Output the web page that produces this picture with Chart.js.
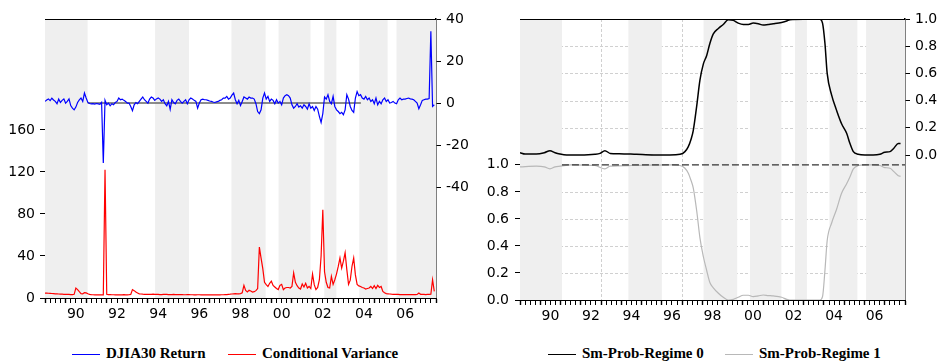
<!DOCTYPE html>
<html>
<head>
<meta charset="utf-8">
<title>DJIA30 Return, Conditional Variance and Smoothed Regime Probabilities</title>
<script src="https://cdn.jsdelivr.net/npm/chart.js@4.4.1/dist/chart.umd.min.js"></script>
<style>
  body { margin: 0; background: #fff; }
  #wrap { position: relative; width: 938px; height: 363px; overflow: hidden; }
  .panel { position: absolute; top: 0; width: 469px; height: 330px; }
  #leftPanel { left: 0; }
  #rightPanel { left: 469px; }
  .key { position: absolute; top: 343px; height: 20px; white-space: nowrap;
         font: bold 15px "Liberation Serif", "Times New Roman", serif; color: #000; line-height: 20px; }
  .key i { display: inline-block; width: 28px; height: 0; border-top: 1.5px solid; vertical-align: middle; margin-right: 6px; }
</style>
</head>
<body>
<div id="wrap">
  <div class="panel" id="leftPanel"><canvas id="leftChart" width="469" height="330"></canvas></div>
  <div class="panel" id="rightPanel"><canvas id="rightChart" width="469" height="330"></canvas></div>
  <div id="legends"></div>
</div>
<script>
// monthly observations, 1989M01 .. 2007M12
const months = [];
for (let i = 0; i < 228; i++) months.push(1989 + i / 12);

const djiaReturn = [
  0.8, 1.5, 2.0, 1.2, 2.3, 1.5, 0.8, -0.3, 1.9, 0.3, 1.3, 2.0,
  0.0, 0.8, 2.0, -1.2, -2.4, -3.2, -1.9, 0.3, 1.5, 2.4, 0.8, 4.8,
  2.4, 0.3, -0.2, -0.4, -0.3, -0.5, -0.2, -0.4, -0.6, 0.4, -28.5, 1.3,
  -0.8, 0.0, -1.3, -0.3, -0.8, 0.3, 0.8, 2.4, 1.6, 1.9, 1.3, 0.8,
  0.0, 0.0, -1.6, -3.6, -0.8, 0.3, -0.3, 0.8, 1.9, 2.9, 1.6, 0.8,
  0.0, 1.9, 2.9, 2.4, 1.3, 2.0, 2.4, 1.9, 0.8, 1.6, -0.3, -1.3,
  0.8, -3.0, 1.6, 0.3, -0.3, 1.3, 1.9, 0.8, 0.0, 0.8, 1.6, -0.3,
  1.6, 2.4, 1.9, 1.3, 0.8, -2.4, 0.0, 1.6, 1.9, 1.6, 1.6, 1.3,
  1.0, 0.8, 0.5, 0.3, 0.6, 0.8, 1.3, 1.6, 2.4, 2.4, 3.2, 1.9,
  2.4, 3.8, 4.8, 1.6, -0.3, 1.3, -1.2, 0.8, 2.9, 2.4, 1.9, 2.9,
  2.4, 2.4, 1.9, -0.3, -4.0, -5.0, -3.2, 2.4, 4.8, 1.9, 3.2, 0.8,
  1.9, 1.3, -0.3, 1.6, 0.0, 0.8, -0.8, 2.4, 3.5, 4.0, 3.5, 2.4,
  -0.8, -2.4, -1.6, -0.3, -1.9, -1.3, -2.4, -0.8, -1.6, -2.9, -0.3, -2.4,
  -1.6, -3.5, -1.6, -2.9, -6.3, -9.2, -5.0, 2.9, 1.9, 4.0, 0.8, -0.3,
  3.2, -1.6, -3.2, -4.0, -5.0, -4.4, -5.5, -3.2, 4.0, 1.9, -1.6, -3.5,
  -4.4, 2.4, 5.5, 3.5, 4.0, 2.4, 1.9, 3.2, 1.6, 2.4, 0.8, 1.6,
  -0.3, 2.4, -0.8, 0.8, -0.3, 1.6, 2.4, 0.8, 1.6, 0.0, 0.3, 0.8,
  0.0, -0.3, 1.6, 2.4, 1.6, 1.9, 1.9, 2.2, 2.4, 2.0, 1.9, 1.6,
  0.8, 0.0, -2.7, -0.8, 1.3, 1.6, 1.9, 1.9, 2.2, 34.2, -1.6, -0.8
];

const condVariance = [
  4.7, 4.6, 4.5, 4.4, 4.3, 4.2, 4.0, 3.9, 3.8, 3.7, 3.6, 3.5,
  3.5, 3.4, 3.4, 3.3, 3.3, 3.5, 9.5, 8.0, 6.0, 4.2, 4.0, 5.0,
  4.8, 4.0, 3.5, 3.2, 3.1, 3.0, 3.0, 2.9, 2.9, 2.9, 3.0, 122,
  3.5, 3.3, 3.2, 3.1, 3.1, 3.0, 3.0, 3.1, 3.0, 3.0, 3.2, 3.0,
  3.0, 3.1, 3.4, 8.0, 7.0, 5.7, 4.7, 4.0, 3.8, 3.6, 3.5, 3.5,
  3.4, 3.4, 3.5, 3.6, 3.5, 3.4, 3.4, 3.3, 3.3, 3.4, 3.5, 3.4,
  3.3, 3.3, 3.2, 3.4, 3.3, 3.2, 3.2, 3.3, 3.2, 3.1, 3.1, 3.2,
  3.2, 3.1, 3.1, 3.0, 3.0, 3.1, 3.1, 3.0, 3.0, 3.0, 3.1, 3.0,
  3.0, 3.0, 3.0, 3.0, 3.0, 3.0, 3.0, 3.1, 3.1, 3.2, 3.3, 3.5,
  3.6, 3.8, 4.0, 4.2, 4.0, 4.0, 4.2, 5.0, 12.0, 7.3, 5.7, 7.3,
  6.6, 5.7, 6.0, 7.0, 9.0, 48.5, 38.0, 28.0, 15.0, 12.7, 11.0, 14.0,
  16.0, 12.0, 10.5, 9.0, 8.0, 12.0, 13.0, 8.0, 9.5, 10.0, 10.0, 9.5,
  11.0, 23.8, 15.0, 11.7, 9.5, 8.5, 13.3, 10.5, 14.0, 9.5, 11.0, 9.0,
  22.8, 12.7, 8.0, 10.0, 17.4, 40.0, 84.0, 25.0, 15.0, 10.0, 9.5, 20.6,
  13.0, 17.4, 23.0, 30.0, 38.0, 28.5, 35.0, 43.0, 27.0, 13.0, 17.0, 30.0,
  38.0, 22.0, 13.0, 11.5, 11.0, 10.0, 9.5, 8.5, 9.0, 9.5, 11.0, 9.0,
  11.7, 9.0, 12.0, 10.0, 11.0, 6.3, 5.0, 4.2, 4.0, 3.8, 3.6, 3.5,
  3.5, 3.4, 3.4, 3.3, 3.3, 3.3, 3.2, 3.2, 3.2, 3.2, 3.3, 3.3,
  3.3, 3.4, 4.7, 3.5, 3.4, 3.4, 3.3, 3.4, 3.5, 3.6, 17.4, 6.3
];

// smoothed regime probabilities (read at irregular dates)
const reg0Dates = [1989.0, 1989.25, 1989.8, 1990.2, 1990.48, 1990.73, 1990.97, 1991.3, 1991.95, 1992.7, 1992.95,
  1993.19, 1993.45, 1993.9, 1994.75, 1995.6, 1996.4, 1996.9, 1997.14, 1997.3, 1997.45, 1997.55, 1997.72, 1997.88,
  1998.05, 1998.21, 1998.37, 1998.54, 1998.79, 1999.03, 1999.28, 1999.53, 1999.77, 2000.02, 2000.27, 2000.51,
  2000.76, 2001.0, 2001.25, 2001.5, 2001.91, 2002.16, 2002.32, 2003.0, 2003.8, 2003.93, 2004.05, 2004.16, 2004.38,
  2004.62, 2004.87, 2005.12, 2005.28, 2005.45, 2005.69, 2006.02, 2006.43, 2006.76, 2007.0, 2007.26, 2007.45,
  2007.67, 2007.78];
const regime0 = [0.017, 0.007, 0.007, 0.017, 0.032, 0.017, 0.007, 0.0, 0.0, 0.005, 0.012,
  0.032, 0.012, 0.01, 0.005, 0.0, 0.0, 0.005, 0.025, 0.06, 0.12, 0.18, 0.36, 0.55,
  0.67, 0.73, 0.82, 0.89, 0.93, 0.96, 0.995, 0.99, 0.97, 0.96, 0.96, 0.97,
  0.965, 0.955, 0.96, 0.965, 0.975, 0.985, 0.995, 0.998, 0.998, 0.97, 0.82, 0.6, 0.44,
  0.33, 0.23, 0.16, 0.086, 0.025, 0.005, 0.0, 0.0, 0.005, 0.02, 0.025, 0.05,
  0.085, 0.085];
const reg1Dates = [1989.0, 1989.8, 1990.2, 1990.48, 1990.73, 1991.0, 1991.5, 1992.7, 1993.19, 1993.45, 1994.5,
  1996.5, 1996.9, 1997.14, 1997.3, 1997.45, 1997.55, 1997.72, 1997.88, 1998.05, 1998.21, 1998.37, 1998.54,
  1998.79, 1999.03, 1999.28, 1999.53, 1999.77, 2000.02, 2000.27, 2000.51, 2000.76, 2001.0, 2001.25, 2001.5,
  2001.91, 2002.16, 2002.32, 2003.8, 2003.93, 2004.05, 2004.16, 2004.38, 2004.62, 2004.87, 2005.12, 2005.28,
  2005.45, 2005.69, 2006.02, 2006.43, 2006.76, 2007.0, 2007.26, 2007.45, 2007.67, 2007.78];
const regime1 = [0.985, 0.99, 0.985, 0.97, 0.985, 0.99, 1.0, 0.995, 0.97, 0.99, 0.995,
  1.0, 0.995, 0.975, 0.94, 0.88, 0.83, 0.66, 0.46, 0.32, 0.22, 0.13, 0.09,
  0.05, 0.02, 0.0, 0.005, 0.02, 0.035, 0.035, 0.025, 0.03, 0.037, 0.033, 0.03,
  0.02, 0.005, 0.0, 0.0, 0.025, 0.22, 0.44, 0.57, 0.67, 0.79, 0.86, 0.91,
  0.97, 0.995, 1.0, 1.0, 0.995, 0.98, 0.975, 0.95, 0.92, 0.915];

// shaded periods
const bands = [[1989.0, 1991.07], [1994.35, 1996.0], [1998.06, 1999.72], [2000.35, 2001.9],
  [2002.57, 2003.16], [2004.27, 2005.65], [2006.08, 2008.0]];

// reference lines
const zeroLineDates = [1991.07, 2004.35];
const oneLineDates = [1991.07, 2008.0];

// axis ticks
const cvTicks = [0, 40, 80, 120, 160];
const retTicks = [-40, -20, 0, 20, 40];
const probTicks = [0, 0.2, 0.4, 0.6, 0.8, 1.0];
const labelYears = [1990, 1992, 1994, 1996, 1998, 2000, 2002, 2004, 2006];
const gridYears = [1993, 1997, 2001, 2005];
const gridProbs = [0.2, 0.4, 0.6, 0.8];

const seriesNames = ['DJIA30 Return', 'Conditional Variance', 'Sm-Prob-Regime 0', 'Sm-Prob-Regime 1'];
const seriesColors = ['#0000ff', '#ff0000', '#000000', '#b8b8b8'];

const tickFont = { family: '"DejaVu Sans", Verdana, sans-serif', size: 14 };

const quarterTicks = [];
for (let q = 1989 * 4; q <= 2008 * 4; q++) quarterTicks.push(q / 4);

function xAxis(h) {
  return {
    type: 'linear', min: 1989, max: 2008,
    afterBuildTicks: s => { s.ticks = quarterTicks.map(v => ({ value: v })); },
    afterFit: s => { s.height = h; },
    ticks: {
      autoSkip: false, maxRotation: 0, padding: 3, color: '#000', font: tickFont,
      callback: v => labelYears.includes(v - 0.5) ? String((v - 0.5) % 100).padStart(2, '0') : ''
    },
    grid: { drawOnChartArea: false, tickLength: 5, tickColor: '#000',
            tickWidth: c => (c.tick && Number.isInteger(c.tick.value)) ? 1.4 : 1 },
    border: { color: '#000', width: 1 }
  };
}

function yAxis(pos, min, max, ticks, w, fmt, pad) {
  return {
    position: pos, min: min, max: max,
    afterBuildTicks: s => { s.ticks = ticks.map(v => ({ value: v })); },
    afterFit: s => { s.width = w; },
    ticks: { color: '#000', font: tickFont, padding: pad, callback: fmt },
    grid: { drawOnChartArea: false, tickLength: 5, tickColor: '#000' },
    border: { color: '#000', width: pos === 'right' ? 1.5 : 1 }
  };
}

const shade = {
  id: 'shade',
  beforeDatasetsDraw(chart, args, opts) {
    const { ctx, chartArea: a, scales } = chart;
    ctx.save();
    ctx.beginPath();
    ctx.rect(a.left, a.top, a.width, a.height);
    ctx.clip();
    if (opts.grid) {
      ctx.strokeStyle = '#d0d0d0';
      ctx.lineWidth = 1;
      ctx.setLineDash([3, 2]);
      gridYears.forEach(v => {
        const px = Math.round(scales.x.getPixelForValue(v)) + 0.5;
        ctx.beginPath(); ctx.moveTo(px, a.top); ctx.lineTo(px, a.bottom); ctx.stroke();
      });
      ['yL', 'yR'].forEach(id => gridProbs.forEach(v => {
        const py = Math.round(scales[id].getPixelForValue(v)) + 0.5;
        ctx.beginPath(); ctx.moveTo(a.left, py); ctx.lineTo(a.right, py); ctx.stroke();
      }));
      ctx.setLineDash([]);
    }
    ctx.fillStyle = '#efefef';
    bands.forEach(([s, e]) => {
      const x0 = scales.x.getPixelForValue(s), x1 = scales.x.getPixelForValue(e);
      ctx.fillRect(x0, a.top, x1 - x0, a.height);
    });
    ctx.restore();
  },
  afterDraw(chart) {
    const { ctx, chartArea: a } = chart;
    ctx.save();
    ctx.strokeStyle = '#000';
    ctx.lineWidth = 1;
    ctx.beginPath(); ctx.moveTo(a.left, a.top + 0.5); ctx.lineTo(a.right, a.top + 0.5); ctx.stroke();
    ctx.restore();
  }
};

const pairs = (xs, ys) => xs.map((x, i) => ({ x: x, y: ys[i] }));

const common = {
  responsive: false, animation: false,
  parsing: false,
  layout: { padding: { top: 19, left: 0, right: 0, bottom: 0 } },
  plugins: { legend: { display: false }, tooltip: { enabled: false } },
  elements: { point: { radius: 0 } }
};

new Chart(document.getElementById('leftChart'), {
  type: 'line',
  data: {
    datasets: [
      { label: seriesNames[0], data: pairs(months, djiaReturn), yAxisID: 'yRet',
        borderColor: seriesColors[0], borderWidth: 1.2, order: 1 },
      { label: 'zero', data: pairs(zeroLineDates, [0, 0]), yAxisID: 'yRet',
        borderColor: '#666', borderWidth: 1.5, order: 2 },
      { label: seriesNames[1], data: pairs(months, condVariance), yAxisID: 'yCV',
        borderColor: seriesColors[1], borderWidth: 1.2, order: 3 }
    ]
  },
  options: Object.assign({}, common, {
    plugins: Object.assign({}, common.plugins, { shade: { grid: false } }),
    scales: {
      x: xAxis(32),
      yCV: yAxis('left', 0, 265.5, cvTicks, 45, v => String(v), 5),
      yRet: yAxis('right', -92.7, 40, retTicks, 33, v => String(v), 5)
    }
  }),
  plugins: [shade]
});

new Chart(document.getElementById('rightChart'), {
  type: 'line',
  data: {
    datasets: [
      { label: seriesNames[2], data: pairs(reg0Dates, regime0), yAxisID: 'yR',
        borderColor: seriesColors[2], borderWidth: 1.5, cubicInterpolationMode: 'monotone', order: 1 },
      { label: 'one', data: pairs(oneLineDates, [1, 1]), yAxisID: 'yL',
        borderColor: '#333', borderWidth: 1.2, borderDash: [7, 3], order: 2 },
      { label: seriesNames[3], data: pairs(reg1Dates, regime1), yAxisID: 'yL',
        borderColor: seriesColors[3], borderWidth: 1.2, cubicInterpolationMode: 'monotone', order: 3 }
    ]
  },
  options: Object.assign({}, common, {
    plugins: Object.assign({}, common.plugins, { shade: { grid: true } }),
    scales: {
      x: xAxis(30),
      yL: yAxis('left', 0, 2.079, probTicks, 51, v => v.toFixed(1), 6),
      yR: yAxis('right', -1.066, 1, probTicks, 33, v => v.toFixed(1), 5)
    }
  }),
  plugins: [shade]
});

// legends
const keyPos = [72, 228, 548, 725];
const legends = document.getElementById('legends');
seriesNames.forEach((name, k) => {
  const d = document.createElement('div');
  d.className = 'key';
  d.style.left = keyPos[k] + 'px';
  d.innerHTML = '<i style="border-color:' + seriesColors[k] + '"></i>' + name;
  legends.appendChild(d);
});
</script>
</body>
</html>
